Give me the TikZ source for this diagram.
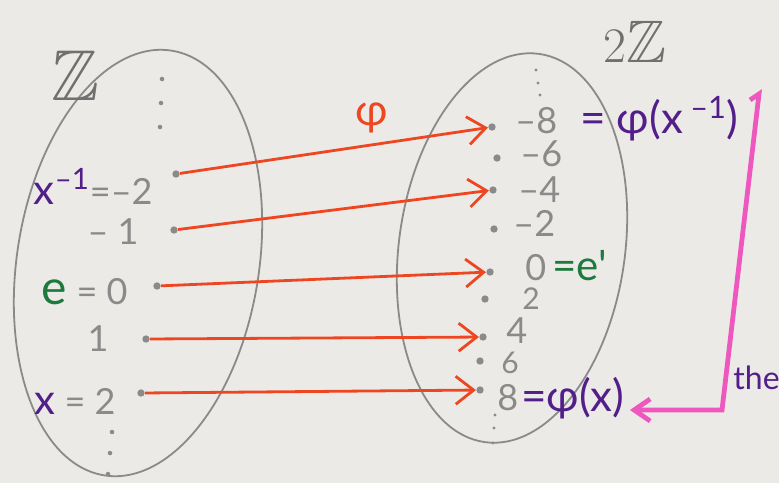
\documentclass[tikz,border=0pt]{standalone}
\usepackage{amssymb}
\usepackage{fontspec}
\setmainfont{Lato}
\usetikzlibrary{positioning,arrows.meta}
\definecolor{paper}{RGB}{235,234,230}
\definecolor{pencil}{RGB}{138,138,138}
\definecolor{darkpencil}{RGB}{112,112,112}
\definecolor{MapRed}{RGB}{238,70,32}
\definecolor{InkPurple}{RGB}{82,30,138}
\definecolor{InkGreen}{RGB}{28,122,62}
\definecolor{HotPink}{RGB}{238,88,190}
\tikzset{
  elt/.style={circle,fill=pencil,inner sep=1.3pt},
  tinyelt/.style={circle,fill=pencil,inner sep=0.8pt},
  num/.style={text=pencil,inner sep=0.5pt,font=\fontsize{18}{18}\selectfont},
  smallnum/.style={num,font=\fontsize{15}{15}\selectfont},
  pnum/.style={text=InkPurple,inner sep=0.5pt,font=\fontsize{22}{22}\selectfont},
  setname/.style={text=darkpencil,inner sep=0pt},
  setline/.style={draw=pencil,line width=0.9pt},
  maparr/.style={-{Straight Barb[length=9pt,width=14pt]},MapRed,line width=1.4pt},
  pinkarr/.style={-{Straight Barb[length=8pt,width=11pt]},HotPink,line width=2.4pt},
}
\newcommand{\inkbig}{\fontsize{21}{21}\selectfont}

\begin{document}
\begin{tikzpicture}[x=0.5pt,y=-0.5pt]
    \clip (0,0) rectangle (779,483);
    \fill[paper] (0,0) rectangle (779,483);
    \draw[setline,rotate around={-9:(138,263)}] (138,263) ellipse [x radius=121,y radius=215];
    \draw[setline,rotate around={-8:(512,248)}] (512,248) ellipse [x radius=113,y radius=196];
    \node[setname,font=\fontsize{36}{36}\selectfont] (zl) at (75,76) {$\mathbb{Z}$};
    \node[setname,font=\fontsize{30}{30}\selectfont] (zr) at (635,42) {$2\mathbb{Z}$};
    \node[text=MapRed,font=\fontsize{22}{22}\selectfont] (phi) at (372,118) {φ};
    \node[elt] (lm2) at (176,174) {};
    \node[elt] (lm1) at (174,230) {};
    \node[elt] (l0) at (157,286) {};
    \node[elt] (l1) at (146,339) {};
    \node[elt] (l2) at (141,393) {};
    \node[num,left=9pt of lm2,yshift=-6pt] (lm2lbl) {\textcolor{InkPurple}{\inkbig x\textsuperscript{--1}}=--2};
    \node[num,left=15pt of lm1,yshift=-1pt] (lm1lbl) {-- 1};
    \node[num,left=12pt of l0,yshift=-3pt] (l0lbl) {\textcolor{InkGreen}{\fontsize{24}{24}\selectfont e} = 0};
    \node[num,left=16pt of l1] (l1lbl) {1};
    \node[num,left=10pt of l2,yshift=-4pt] (l2lbl) {\textcolor{InkPurple}{\inkbig x} = 2};
    \node[elt] (rm8) at (492,127) {};
    \node[elt] (rm6) at (497,158) {};
    \node[elt] (rm4) at (493,190) {};
    \node[elt] (rm2) at (494,229) {};
    \node[elt] (r0) at (490,272) {};
    \node[elt] (r2) at (485,299) {};
    \node[elt] (r4) at (483,337) {};
    \node[elt] (r6) at (480,361) {};
    \node[elt] (r8) at (480,390) {};
    \node[num,right=9pt of rm8,yshift=3pt] (rm8lbl) {--8};
    \node[pnum,right=10pt of rm8lbl,yshift=1pt] (phixinv) {= φ(x\,\textsuperscript{--1})};
    \node[num,right=9pt of rm6,yshift=2pt] (rm6lbl) {--6};
    \node[num,right=10pt of rm4] (rm4lbl) {--4};
    \node[num,right=7pt of rm2,yshift=3pt] (rm2lbl) {--2};
    \node[num,right=15pt of r0,yshift=3pt] (r0lbl) {0\,\textcolor{InkGreen}{\inkbig =e\textquotesingle}};
    \node[smallnum,right=16pt of r2] (r2lbl) {2};
    \node[num,right=9pt of r4,yshift=3pt] (r4lbl) {4};
    \node[smallnum,right=8pt of r6,yshift=-1pt] (r6lbl) {6};
    \node[num,right=6pt of r8,yshift=-4pt] (r8lbl) {8};
    \node[pnum,right=0pt of r8lbl] (phix) {=φ(x)};
    \foreach \y [count=\i] in {79,103,127} \node[tinyelt] (lt\i) at (163-\i,\y) {};
    \foreach \y [count=\i] in {432,453,474} \node[tinyelt] (lb\i) at (114-2*\i,\y) {};
    \foreach \y [count=\i] in {70,83,95} \node[tinyelt,inner sep=0.6pt] (rt\i) at (534+2*\i,\y) {};
    \foreach \y [count=\i] in {415,428,443} \node[tinyelt,inner sep=0.6pt] (rb\i) at (496-\i,\y) {};
    \draw[maparr] (lm2) -- (rm8); \draw[maparr] (lm1) -- (rm4); \draw[maparr] (l0) -- (r0);
    \draw[maparr] (l1) -- (r4); \draw[maparr] (l2) -- (r8);
    \coordinate (hook) at (750,100);
    \coordinate (ptop) at (759,94);
    \coordinate (pbot) at (722,410);
    \draw[pinkarr] (hook) -- (ptop) -- (pbot) -- ([xshift=2pt]phix.east |- pbot);
    \node[pnum,font=\fontsize{16}{16}\selectfont,anchor=west] (the) at (732,378) {the};
\end{tikzpicture}
\end{document}
